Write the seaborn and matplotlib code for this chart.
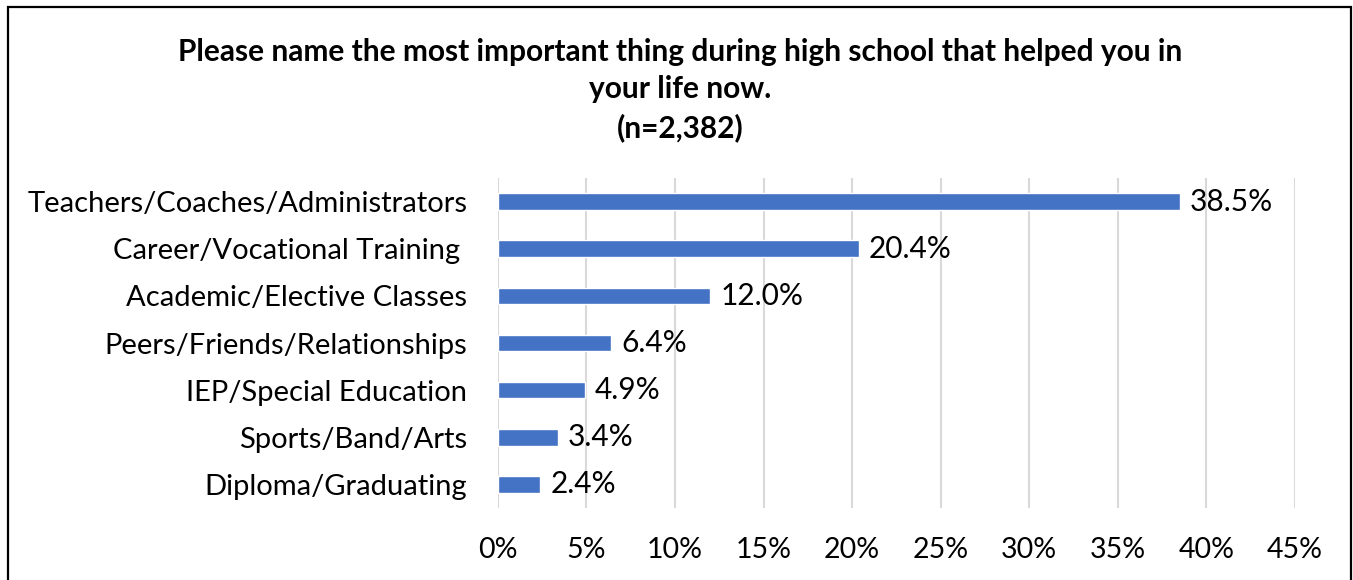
import matplotlib
matplotlib.use("Agg")
import matplotlib.pyplot as plt
import seaborn as sns
import pandas as pd
from matplotlib.patches import Rectangle
from matplotlib.ticker import FuncFormatter, MultipleLocator

categories = [
    "Teachers/Coaches/Administrators",
    "Career/Vocational Training ",
    "Academic/Elective Classes",
    "Peers/Friends/Relationships",
    "IEP/Special Education",
    "Sports/Band/Arts",
    "Diploma/Graduating",
]
values = [38.5, 20.4, 12.0, 6.4, 4.9, 3.4, 2.4]
title = ("Please name the most important thing during high school that helped you in\n"
         "your life now.\n(n=2,382)")

sns.set_theme(style="white")
plt.rcParams["font.family"] = ["Lato", "DejaVu Sans"]

df = pd.DataFrame({"category": categories, "value": values})

fig = plt.figure(figsize=(13.53, 5.8), dpi=100)
ax = fig.add_axes([0.368, 0.1241, 0.589, 0.569])

sns.barplot(data=df, x="value", y="category", color="#4472C4",
            width=0.35, saturation=1, ax=ax, zorder=3)

ax.set_xlim(0, 45)
ax.xaxis.set_major_locator(MultipleLocator(5))
ax.xaxis.set_major_formatter(FuncFormatter(lambda v, _: f"{v:.0f}%"))
ax.grid(axis="x", color="#D9D9D9", linewidth=1.5, zorder=0)
ax.grid(axis="y", visible=False)
for s in ax.spines.values():
    s.set_visible(False)
ax.set_xlabel("")
ax.set_ylabel("")
ax.tick_params(axis="x", labelsize=20.5, colors="black", length=0, pad=21)
ax.tick_params(axis="y", labelsize=21, colors="black", length=0, pad=22)

for i, v in enumerate(values):
    ax.text(v + 0.55, i, f"{v:.1f}%", va="center", ha="left",
            fontsize=21.5, color="#000000")

fig.text(0.5026, 0.934, title, ha="center", va="top", fontsize=21.5,
         fontweight="bold", linespacing=1.4, color="black")

fig.patches.append(Rectangle((8 / 1353, -0.05), 1343 / 1353, 1.05 - 7 / 580,
                             transform=fig.transFigure, fill=False,
                             edgecolor="black", linewidth=1.6))

fig.savefig("out.png", dpi=100)
